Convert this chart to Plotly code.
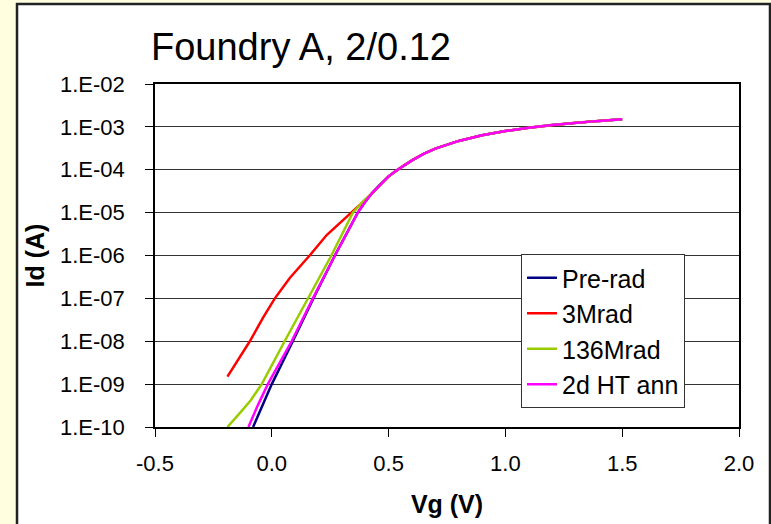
import plotly.graph_objects as go

# Gate voltage (V) and drain current (A) for each irradiation step
vg_prerad = [-0.08, -0.04, 0.0, 0.09, 0.178, 0.27, 0.368, 0.40, 0.43, 0.46, 0.50, 0.53, 0.56,
             0.60, 0.65, 0.70, 0.80, 0.90, 1.00, 1.10, 1.20, 1.30, 1.40, 1.50]
id_prerad = [1e-10, 3.2e-10, 1e-9, 1e-8, 1e-7, 1e-6, 1e-5, 1.8e-5, 2.9e-5, 4.3e-5, 7e-5, 9.4e-5, 1.2e-4,
             1.65e-4, 2.35e-4, 3.1e-4, 4.7e-4, 6.4e-4, 8.0e-4, 9.6e-4, 1.1e-3, 1.25e-3, 1.38e-3, 1.5e-3]

vg_3mrad = [-0.19, -0.137, -0.094, -0.038, 0.013, 0.077, 0.162, 0.235, 0.29, 0.34, 0.39, 0.44,
            0.50, 0.53, 0.56, 0.60, 0.65, 0.70, 0.80, 0.90, 1.00, 1.10, 1.20, 1.30, 1.40, 1.50]
id_3mrad = [1.5e-9, 4.3e-9, 1e-8, 3.5e-8, 1e-7, 3e-7, 1e-6, 3e-6, 5.8e-6, 1e-5, 1.75e-5, 3.2e-5,
            7e-5, 9.4e-5, 1.2e-4, 1.65e-4, 2.35e-4, 3.1e-4, 4.7e-4, 6.4e-4, 8.0e-4, 9.6e-4, 1.1e-3,
            1.25e-3, 1.38e-3, 1.5e-3]

vg_136mrad = [-0.19, -0.16, -0.137, -0.09, -0.043, 0.055, 0.155, 0.255, 0.347, 0.39, 0.43, 0.46,
              0.50, 0.53, 0.56, 0.60, 0.65, 0.70, 0.80, 0.90, 1.00, 1.10, 1.20, 1.30, 1.40, 1.50]
id_136mrad = [1e-10, 1.5e-10, 2.1e-10, 4.2e-10, 1e-9, 1e-8, 1e-7, 1e-6, 1e-5, 1.8e-5, 2.9e-5, 4.3e-5,
              7e-5, 9.4e-5, 1.2e-4, 1.65e-4, 2.35e-4, 3.1e-4, 4.7e-4, 6.4e-4, 8.0e-4, 9.6e-4, 1.1e-3,
              1.25e-3, 1.38e-3, 1.5e-3]

vg_htann = [-0.10, -0.06, -0.017, 0.085, 0.176, 0.27, 0.368, 0.40, 0.43, 0.46, 0.50, 0.53, 0.56,
            0.60, 0.65, 0.70, 0.80, 0.90, 1.00, 1.10, 1.20, 1.30, 1.40, 1.50]
id_htann = [1e-10, 3.2e-10, 1e-9, 1e-8, 1e-7, 1e-6, 1e-5, 1.8e-5, 2.9e-5, 4.3e-5, 7e-5, 9.4e-5, 1.2e-4,
            1.65e-4, 2.35e-4, 3.1e-4, 4.7e-4, 6.4e-4, 8.0e-4, 9.6e-4, 1.1e-3, 1.25e-3, 1.38e-3, 1.5e-3]

series_names = ["Pre-rad", "3Mrad", "136Mrad", "2d HT ann"]
series_colors = ["#000080", "#FF0000", "#99CC00", "#FF00FF"]
series_x = [vg_prerad, vg_3mrad, vg_136mrad, vg_htann]
series_y = [id_prerad, id_3mrad, id_136mrad, id_htann]

y_tickvals = [1e-10, 1e-9, 1e-8, 1e-7, 1e-6, 1e-5, 1e-4, 1e-3, 1e-2]
y_ticktext = ["1.E-10", "1.E-09", "1.E-08", "1.E-07", "1.E-06",
              "1.E-05", "1.E-04", "1.E-03", "1.E-02"]
x_tickvals = [-0.5, 0.0, 0.5, 1.0, 1.5, 2.0]
x_ticktext = ["-0.5", "0.0", "0.5", "1.0", "1.5", "2.0"]

FONT = "Liberation Sans, Arial, sans-serif"
W, H = 771, 524
L, R, T, B = 155, 32, 84, 97
pw, ph = W - L - R, H - T - B


def px_to_paper_x(px):
    return (px - L) / pw


def px_to_paper_y(py):
    return (H - B - py) / ph


fig = go.Figure()
for i, (name, color, xs, ys) in enumerate(zip(series_names, series_colors, series_x, series_y)):
    fig.add_trace(go.Scatter(
        x=xs, y=ys, mode="lines", name=name,
        line=dict(color=color, width=2.5),
        legendgroup=f"g{i}",
    ))

# White framed card on the pale yellow page
fig.add_shape(
    type="rect", xref="paper", yref="paper", layer="below",
    x0=px_to_paper_x(17), x1=px_to_paper_x(770),
    y0=px_to_paper_y(540), y1=px_to_paper_y(4),
    fillcolor="white", line=dict(color="#222222", width=2.5),
)

fig.add_annotation(
    text="Foundry A, 2/0.12", xref="paper", yref="paper",
    x=px_to_paper_x(149), y=px_to_paper_y(47), xanchor="left", yanchor="middle",
    showarrow=False, font=dict(family=FONT, size=38, color="black"),
)

fig.update_layout(
    width=W, height=H,
    margin=dict(l=L, r=R, t=T, b=B),
    paper_bgcolor="#FFFFE0",
    plot_bgcolor="white",
    showlegend=True,
    legend=dict(
        x=px_to_paper_x(521), y=px_to_paper_y(254), xanchor="left", yanchor="top",
        bgcolor="white", bordercolor="#333333", borderwidth=1,
        font=dict(family=FONT, size=25, color="black"),
        tracegroupgap=0, itemwidth=30,
    ),
    xaxis=dict(
        range=[-0.5, 2.0], tickvals=x_tickvals, ticktext=x_ticktext,
        showgrid=False, zeroline=False, automargin=False,
        showline=True, linecolor="black", linewidth=1.5, mirror=True,
        ticks="outside", ticklen=8, tickcolor="black", tickwidth=1,
        ticklabelstandoff=8,
        tickfont=dict(family=FONT, size=22, color="black"),
        title=dict(text="<b>Vg (V)</b>", font=dict(family=FONT, size=25, color="black"), standoff=20),
    ),
    yaxis=dict(
        type="log", range=[-10, -2], tickvals=y_tickvals, ticktext=y_ticktext,
        showgrid=True, gridcolor="#333333", gridwidth=1,
        zeroline=False, automargin=False,
        showline=True, linecolor="black", linewidth=1.5, mirror=True,
        ticks="outside", ticklen=8, tickcolor="black", tickwidth=1,
        ticklabelstandoff=16,
        tickfont=dict(family=FONT, size=22, color="black"),
        title=dict(text="<b>Id (A)</b>", font=dict(family=FONT, size=25, color="black"), standoff=8),
    ),
)

fig.write_html("out.html")
